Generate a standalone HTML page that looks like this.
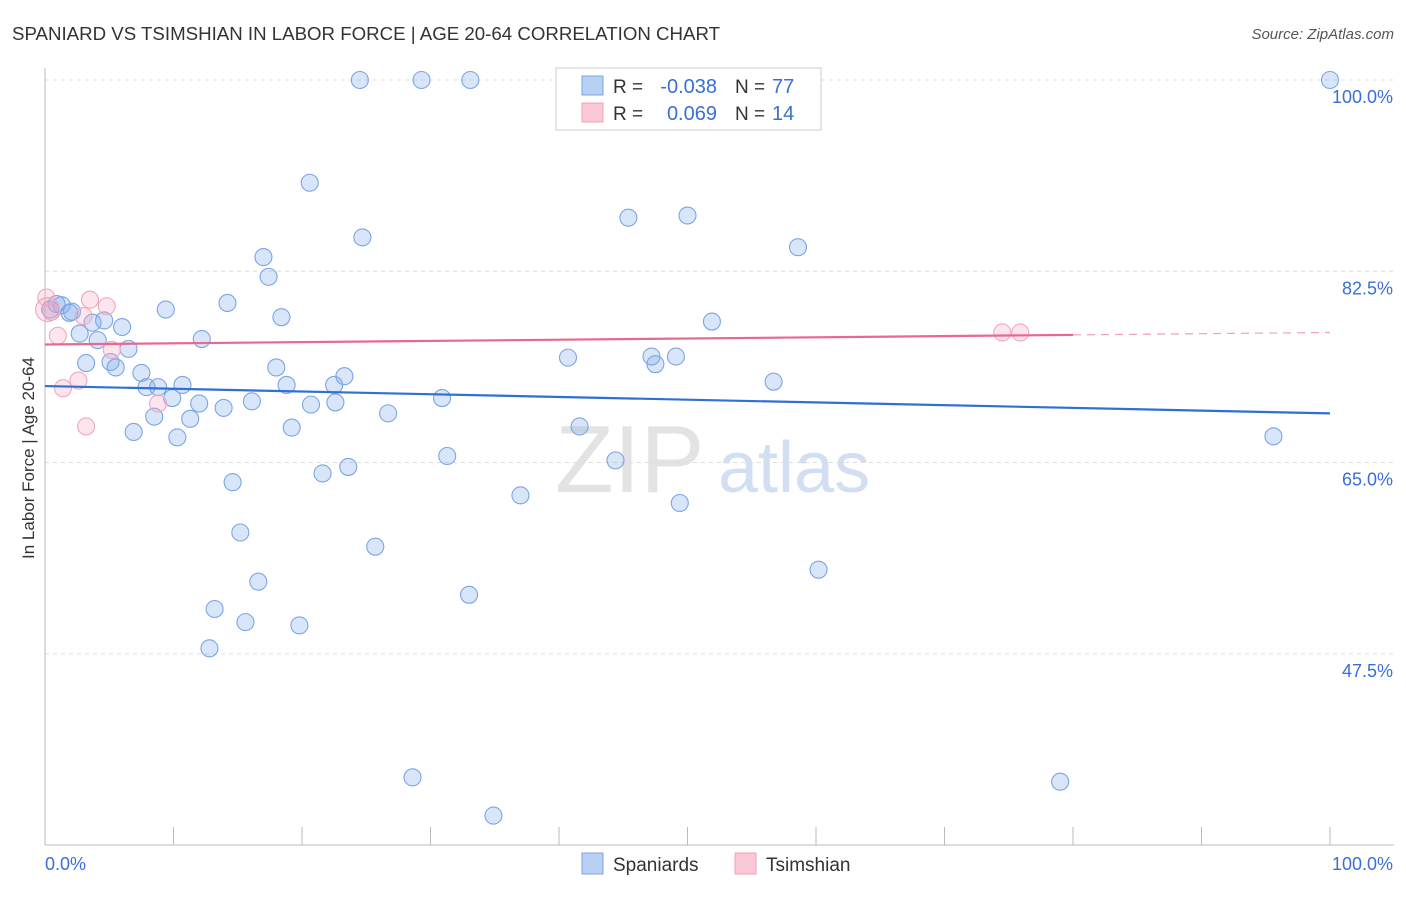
<!DOCTYPE html>
<html><head><meta charset="utf-8"><style>
body{margin:0;background:#fff;font-family:"Liberation Sans",sans-serif;}
svg text{font-family:"Liberation Sans",sans-serif;}
</style></head><body>
<svg id="chart" width="1406" height="892" xmlns="http://www.w3.org/2000/svg">
<text x="12" y="40" font-size="18" fill="#333" textLength="708" lengthAdjust="spacingAndGlyphs">SPANIARD VS TSIMSHIAN IN LABOR FORCE | AGE 20-64 CORRELATION CHART</text>
<text x="1394" y="39" font-size="15" fill="#555" text-anchor="end" font-style="italic">Source: ZipAtlas.com</text>
<text x="555" y="492" font-size="96" fill="#ddd" font-family="Liberation Serif" opacity="0.8">ZIP</text>
<text x="718" y="492" font-size="72" fill="#c8d8f0" opacity="0.8">atlas</text>
<g id="grid"></g>
<g id="axes"></g>
<g id="marks"></g>
<text transform="translate(34,458) rotate(-90)" font-size="17" fill="#333" text-anchor="middle">In Labor Force | Age 20-64</text>
<g>
<rect x="556" y="68" width="265" height="62" fill="#fff" stroke="#ccc"/>
<rect x="582" y="76" width="21" height="19" fill="#b8d0f4" stroke="#7aa4e4"/>
<rect x="582" y="103" width="21" height="19" fill="#fbc8d6" stroke="#f0a0b8"/>
<text x="613" y="93" font-size="19" fill="#333">R =</text>
<text x="717" y="93" font-size="20" fill="#3a6fd8" text-anchor="end">-0.038</text>
<text x="735" y="93" font-size="19" fill="#333">N =</text>
<text x="772" y="93" font-size="20" fill="#3a6fd8">77</text>
<text x="613" y="120" font-size="19" fill="#333">R =</text>
<text x="717" y="120" font-size="20" fill="#3a6fd8" text-anchor="end">0.069</text>
<text x="735" y="120" font-size="19" fill="#333">N =</text>
<text x="772" y="120" font-size="20" fill="#3a6fd8">14</text>
</g>
<g>
<rect x="582" y="853" width="21" height="21" fill="#b8d0f4" stroke="#7aa4e4"/>
<text x="613" y="871" font-size="19" fill="#333">Spaniards</text>
<rect x="735" y="853" width="21" height="21" fill="#fbc8d6" stroke="#f0a0b8"/>
<text x="766" y="871" font-size="19" fill="#333">Tsimshian</text>
</g>
</svg>
<script>
const blueX=[24.5,29.3,33.1,100,20.6,45.4,50.0,24.7,58.6,17.0,17.4,14.2,9.4,18.4,51.9,0.9,0.4,1.3,1.9,2.1,3.7,4.6,6.0,2.7,4.1,12.2,6.5,3.2,5.1,5.5,40.7,47.2,49.1,47.5,18.0,7.5,23.3,56.7,7.9,8.8,10.7,18.8,22.5,9.9,30.9,12.0,16.1,13.9,20.7,22.6,26.7,8.5,11.3,6.9,10.3,19.2,41.6,95.6,31.3,44.4,23.6,21.6,14.6,37.0,49.4,15.2,25.7,60.2,16.6,33.0,13.2,15.6,19.8,12.8,28.6,79.0,34.9];
const blueY=[100,100,100,100,90.6,87.4,87.6,85.6,84.7,83.8,82.0,79.6,79.0,78.3,77.9,79.5,79.0,79.4,78.7,78.8,77.8,78.0,77.4,76.8,76.2,76.3,75.4,74.1,74.2,73.7,74.6,74.7,74.7,74.0,73.7,73.2,72.9,72.4,71.9,71.9,72.1,72.1,72.1,70.9,70.9,70.4,70.6,70.0,70.3,70.5,69.5,69.2,69.0,67.8,67.3,68.2,68.3,67.4,65.6,65.2,64.6,64.0,63.2,62.0,61.3,58.6,57.3,55.2,54.1,52.9,51.6,50.4,50.1,48.0,36.2,35.8,32.7];
const pinkX=[0.1,0.5,1.0,3.5,4.8,3.0,5.2,2.6,1.4,8.8,3.2,74.5,75.9,0.2];
const pinkY=[80.1,78.8,76.6,79.9,79.3,78.4,75.3,72.5,71.8,70.4,68.3,76.9,76.9,79.0];
const blueTrend=[72.0,69.5];
const pinkTrend=[75.8,76.9];
const pinkSolidEnd=80;
const yTicks=[100,82.5,65,47.5];
const yTickLabels=["100.0%","82.5%","65.0%","47.5%"];
const NS="http://www.w3.org/2000/svg";
const X=v=>45+v*12.85;
const Y=v=>80+(100-v)*10.93;
function mk(tag,attrs,parent){const e=document.createElementNS(NS,tag);for(const k in attrs)e.setAttribute(k,attrs[k]);parent.appendChild(e);return e;}
const grid=document.getElementById('grid'),axes=document.getElementById('axes'),marks=document.getElementById('marks');
yTicks.forEach((t,i)=>{
 const l=mk('line',{x1:45,x2:1394,y1:Y(t),y2:Y(t),stroke:'#ddd','stroke-dasharray':'4,4'},grid);
 
 
 const tx=mk('text',{x:1393,y:Y(t)+23,'font-size':18,fill:'#3a6fd8','text-anchor':'end'},axes);
 tx.textContent=yTickLabels[i];
 
 
});
const ax=mk('line',{x1:45,x2:1394,y1:845,y2:845,stroke:'#bbb'},axes);


const ay=mk('line',{x1:45,x2:45,y1:68,y2:845,stroke:'#bbb'},axes);


for(let i=0;i<=10;i++){
 const tk=mk('line',{x1:X(i*10),x2:X(i*10),y1:827,y2:845,stroke:'#bbb'},axes);
 
 
}
const xl0=mk('text',{x:45,y:870,'font-size':18,fill:'#3a6fd8'},axes);xl0.textContent='0.0%';


const xl1=mk('text',{x:1393,y:870,'font-size':18,fill:'#3a6fd8','text-anchor':'end'},axes);xl1.textContent='100.0%';


blueX.forEach((x,i)=>{
 const c=mk('circle',{cx:X(x),cy:Y(blueY[i]),r:8.5,fill:'rgba(120,165,235,0.28)',stroke:'#7ba5e6','stroke-width':1.1},marks);
 
 
});
pinkX.forEach((x,i)=>{
 const c=mk('circle',{cx:X(x),cy:Y(pinkY[i]),r:i==13?12:8.5,fill:'rgba(245,160,190,0.28)',stroke:'#f0a8be','stroke-width':1.1},marks);
 
 
});
const bt=mk('line',{x1:X(0),x2:X(100),y1:Y(blueTrend[0]),y2:Y(blueTrend[1]),stroke:'#2f6fd6','stroke-width':2.2},marks);


const pm=pinkTrend[0]+(pinkTrend[1]-pinkTrend[0])*pinkSolidEnd/100;
const pt=mk('line',{x1:X(0),x2:X(pinkSolidEnd),y1:Y(pinkTrend[0]),y2:Y(pm),stroke:'#e8688e','stroke-width':2.2},marks);


const pd=mk('line',{x1:X(pinkSolidEnd),x2:X(100),y1:Y(pm),y2:Y(pinkTrend[1]),stroke:'#f0a0b8','stroke-width':1.2,'stroke-dasharray':'8,6'},marks);


</script>
</body></html>
